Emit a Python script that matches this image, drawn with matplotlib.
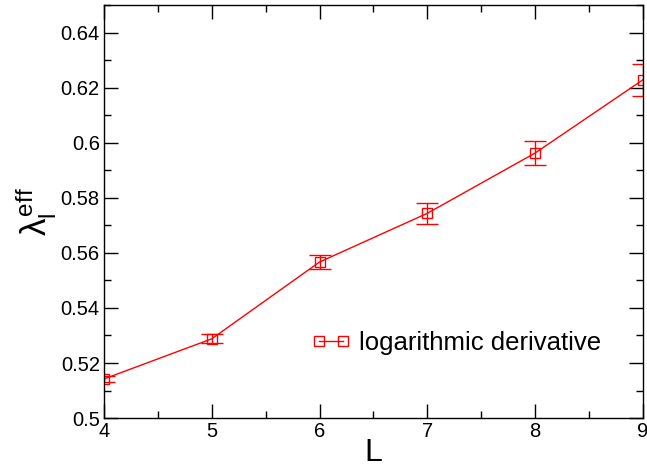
import matplotlib
matplotlib.use('Agg')
import matplotlib.pyplot as plt
from matplotlib.ticker import MultipleLocator

plt.rcParams['font.family'] = ['Liberation Sans', 'DejaVu Sans']
plt.rcParams['mathtext.fontset'] = 'custom'
plt.rcParams['mathtext.rm'] = 'Liberation Sans'
plt.rcParams['mathtext.it'] = 'Liberation Sans'

# data
L = [4, 5, 6, 7, 8, 9]
lam_eff = [0.5142, 0.5288, 0.5567, 0.5744, 0.5963, 0.6229]
lam_err = [0.0012, 0.0016, 0.0027, 0.0038, 0.0044, 0.0058]

red = '#ff0000'

fig = plt.figure(figsize=(6.47, 4.74), dpi=100)
ax = fig.add_axes([0.1607, 0.118, 0.833, 0.871])

ax.errorbar(L, lam_eff, yerr=lam_err, fmt='none', ecolor=red, elinewidth=1.0,
            capsize=8, capthick=1.0)
line, = ax.plot(L, lam_eff, color=red, lw=1.0, marker='s', markersize=7,
                markerfacecolor='none', markeredgewidth=1.0,
                label='logarithmic derivative')

ax.set_xlim(4, 9)
ax.set_ylim(0.5, 0.65)
ax.xaxis.set_major_locator(MultipleLocator(1))
ax.xaxis.set_minor_locator(MultipleLocator(0.5))
ax.yaxis.set_minor_locator(MultipleLocator(0.01))
ax.set_yticks([0.5, 0.52, 0.54, 0.56, 0.58, 0.6, 0.62, 0.64])
ax.set_yticklabels(['0.5', '0.52', '0.54', '0.56', '0.58', '0.6', '0.62', '0.64'])

ax.tick_params(which='both', direction='in', top=True, right=True, labelsize=14.5, width=1.0)
ax.tick_params(which='major', length=10, pad=3)
ax.tick_params(which='minor', length=5)
for s in ax.spines.values():
    s.set_linewidth(1.0)

ax.set_xlabel('L', fontsize=23, labelpad=-2)
ax.set_ylabel(r'$\lambda_{\rm l}^{\rm eff}$', fontsize=25, labelpad=2)

ax.legend(handles=[line], loc='center left', bbox_to_anchor=(0.365, 0.182),
          frameon=False, fontsize=18.5, numpoints=2, handlelength=1.55,
          handletextpad=0.3, borderaxespad=0)

fig.savefig('out.png', dpi=100)
